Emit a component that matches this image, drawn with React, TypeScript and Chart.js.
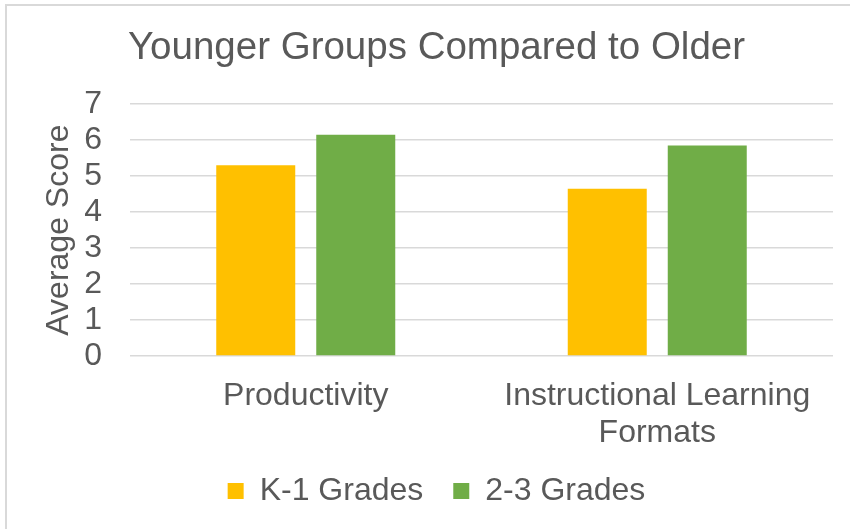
import React, { useEffect, useRef } from "react";
import { Chart, registerables } from "chart.js";

Chart.register(...registerables);

const chartTitle = "Younger Groups Compared to Older";
const yAxisTitle = "Average Score";
const categories: (string | string[])[] = ["Productivity", ["Instructional Learning", "Formats"]];
const seriesNames = ["K-1 Grades", "2-3 Grades"];
const k1Values = [5.3, 4.65];
const g23Values = [6.15, 5.85];
const yMin = 0;
const yMax = 7;
const yStep = 1;

const FONT = "'Liberation Sans', Arial, sans-serif";
const TEXT = "#595959";

export default function App() {
  const ref = useRef<HTMLCanvasElement | null>(null);

  useEffect(() => {
    if (!ref.current) return;
    const chart = new Chart(ref.current, {
      type: "bar",
      data: {
        labels: categories,
        datasets: [
          {
            label: seriesNames[0],
            data: k1Values,
            backgroundColor: "#FFC000",
            borderWidth: 0,
            categoryPercentage: 0.569,
            barPercentage: 0.79,
          },
          {
            label: seriesNames[1],
            data: g23Values,
            backgroundColor: "#70AD47",
            borderWidth: 0,
            categoryPercentage: 0.569,
            barPercentage: 0.79,
          },
        ],
      },
      options: {
        animation: false,
        responsive: false,
        maintainAspectRatio: false,
        layout: { padding: { left: 40, right: 17, top: 0, bottom: 12 } },
        plugins: {
          tooltip: { enabled: false },
          title: {
            display: true,
            text: chartTitle,
            color: TEXT,
            font: { family: FONT, size: 38.5, weight: "normal" },
            padding: { top: 25, bottom: 33 },
          },
          legend: {
            display: true,
            position: "bottom",
            labels: {
              color: TEXT,
              font: { family: FONT, size: 32 },
              boxWidth: 16,
              boxHeight: 16,
              padding: 30,
            },
          },
        },
        scales: {
          x: {
            grid: { display: false, drawTicks: false },
            border: { display: false },
            ticks: {
              color: TEXT,
              font: { family: FONT, size: 32, lineHeight: 1.17 },
              padding: 21,
              maxRotation: 0,
              autoSkip: false,
            },
            afterFit: (s: any) => {
              s.height = 89;
            },
          },
          y: {
            min: yMin,
            max: yMax,
            grid: { color: "#D9D9D9", lineWidth: 1.5, drawTicks: false },
            border: { display: false },
            ticks: {
              stepSize: yStep,
              autoSkip: false,
              color: TEXT,
              font: { family: FONT, size: 32 },
              padding: 28,
            },
            title: {
              display: true,
              text: yAxisTitle,
              color: TEXT,
              font: { family: FONT, size: 32, weight: "normal" },
              padding: { top: 0, bottom: 0 },
            },
            afterFit: (s: any) => {
              s.width = 90;
            },
          },
        },
      },
    });
    return () => chart.destroy();
  }, []);

  return (
    <div style={{ position: "absolute", left: 0, top: 0, width: 850, height: 529, background: "#fff" }}>
      <div
        style={{
          position: "absolute",
          left: 5,
          top: 4,
          right: 0,
          bottom: 0,
          borderLeft: "2px solid #D9D9D9",
          borderTop: "2px solid #D9D9D9",
          pointerEvents: "none",
        }}
      />
      <canvas ref={ref} width={850} height={529} style={{ position: "absolute", left: 0, top: 0 }} />
    </div>
  );
}
